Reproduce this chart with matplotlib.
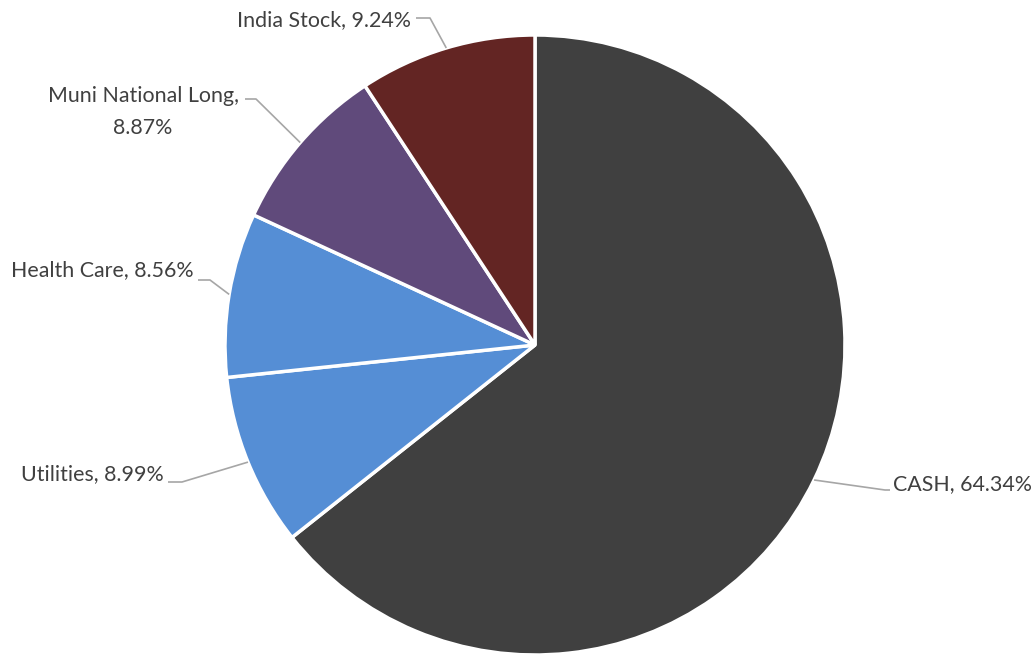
import numpy as np
import matplotlib.pyplot as plt

labels = ["CASH", "Utilities", "Health Care", "Muni National Long", "India Stock"]
values = [64.34, 8.99, 8.56, 8.87, 9.24]
colors = ["#404040", "#558ED5", "#558ED5", "#604A7B", "#632523"]
label_texts = ["CASH, 64.34%", "Utilities, 8.99%", "Health Care, 8.56%",
               "Muni National Long,\n8.87%", "India Stock, 9.24%"]

W, H = 1035, 654
cx, cy, r = 535, H - 345, 310

# label layout (image pixel coords): elbow point, line end, text anchor, alignment
elbows = [(885, 490), (182, 482), (210, 280), (256, 99), (430, 18)]
ends = [(890, 490), (168, 482), (198, 280), (245, 99), (416, 18)]
text_pos = [(893, 484), (164, 474), (194, 270), (143, 112), (411, 20)]
aligns = ["left", "right", "right", "center", "right"]

plt.rcParams['font.family'] = ['Lato', 'DejaVu Sans']

fig = plt.figure(figsize=(W / 100, H / 100), dpi=100)
ax = fig.add_axes([0, 0, 1, 1])
ax.pie(values, colors=colors, center=(cx, cy), radius=r, startangle=90,
       counterclock=False, wedgeprops=dict(edgecolor="white", linewidth=2.5))
ax.set_xlim(0, W)
ax.set_ylim(0, H)
ax.set_aspect("equal")
ax.axis("off")

total = sum(values)
cum = np.cumsum([0] + values)
for i, lab in enumerate(label_texts):
    mid = (cum[i] + values[i] / 2) / total * 360
    th = np.deg2rad(mid)
    sx = cx + r * np.sin(th)
    sy = cy + r * np.cos(th)
    ex, ey = elbows[i]
    fx, fy = ends[i]
    ax.plot([sx, ex, fx], [sy, H - ey, H - fy], color="#A6A6A6", lw=1.2,
            solid_capstyle="butt")
    tx, ty = text_pos[i]
    ax.text(tx, H - ty, lab, ha=aligns[i], va="center", fontsize=15.4,
            color="#404040", multialignment="center", linespacing=1.7)

fig.savefig("out.png", dpi=100)
